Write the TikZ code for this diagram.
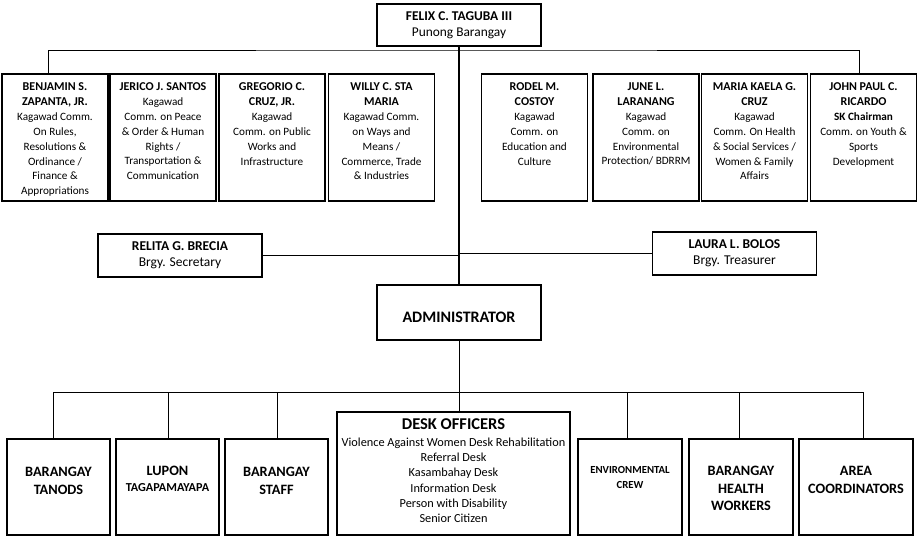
\documentclass[tikz,border=0pt]{standalone}
\usepackage{fontspec}
\setmainfont{Carlito}
\usetikzlibrary{positioning}

% text block pinned to the top of a fixed-height box
\newcommand{\topalign}[4]{\parbox[c][#1][t]{#2}{\centering\vspace*{#3}#4\par}}
\newcommand{\commname}[1]{{\fontsize{12}{15}\selectfont\bfseries #1\par}}
\newcommand{\commtext}[2]{\topalign{127pt}{104pt}{9pt}{\commname{#1}\fontsize{11.2}{14.8}\selectfont #2}}

\begin{document}
\begin{tikzpicture}[x=1pt, y=-1pt,
    orgbox/.style={draw, line width=1.1pt, inner sep=0pt, align=center},
    comm/.style={orgbox, minimum width=106pt, minimum height=127pt},
    officer/.style={orgbox, minimum width=164pt, minimum height=43pt,
                    font=\fontsize{13.5}{16}\selectfont},
    unit/.style={orgbox, minimum height=96pt, font=\bfseries\fontsize{14.3}{17.5}\selectfont},
    link/.style={line width=1pt},
    trunk/.style={line width=1.8pt}]

  \useasboundingbox (0,0) rectangle (920,541);

  \node[orgbox, minimum width=164pt, minimum height=42pt,
        font=\fontsize{13.4}{16}\selectfont] (punong) at (459,25)
        {\textbf{FELIX C. TAGUBA III}\\Punong Barangay};

  % kagawad row
  \node[comm] (c1) at (55,137.5)    {\commtext{BENJAMIN S.\\ZAPANTA, JR.}{Kagawad Comm.\\On Rules,\\Resolutions \&\\Ordinance /\\Finance \&\\Appropriations}};
  \node[comm] (c2) at (163,137.5)   {\commtext{JERICO J. SANTOS}{Kagawad\\Comm. on Peace\\\& Order \& Human\\Rights /\\Transportation \&\\Communication}};
  \node[comm] (c3) at (272,137.5)   {\commtext{GREGORIO C.\\CRUZ, JR.}{Kagawad\\Comm. on Public\\Works and\\Infrastructure}};
  \node[comm] (c4) at (381.5,137.5) {\commtext{WILLY C. STA\\MARIA}{Kagawad Comm.\\on Ways and\\Means /\\Commerce, Trade\\\& Industries}};
  \node[comm] (c5) at (534.5,137.5) {\commtext{RODEL M.\\COSTOY}{Kagawad\\Comm. on\\Education and\\Culture}};
  \node[comm] (c6) at (646,137.5)   {\commtext{JUNE L.\\LARANANG}{Kagawad\\Comm. on\\Environmental\\Protection/ BDRRM}};
  \node[comm] (c7) at (754.5,137.5) {\commtext{MARIA KAELA G.\\CRUZ}{Kagawad\\Comm. On Health\\\& Social Services /\\Women \& Family\\Affairs}};
  \node[comm] (c8) at (863.5,137.5) {\commtext{JOHN PAUL C.\\RICARDO}{\textbf{SK Chairman}\\Comm. on Youth \&\\Sports\\Development}};

  \node[officer] (sec)   at (180,255.5)   {\textbf{RELITA G. BRECIA}\\Brgy. Secretary};
  \node[officer] (treas) at (734.5,253.5) {\textbf{LAURA L. BOLOS}\\Brgy. Treasurer};

  \node[orgbox, minimum width=164pt, minimum height=55pt, text height=19pt, text depth=0pt,
        font=\bfseries\fontsize{16}{19}\selectfont] (admin) at (459,312.5) {ADMINISTRATOR};

  % units under the administrator
  \node[unit, minimum width=103pt] (tanod) at (58.5,487)  {\topalign{96pt}{100pt}{28.4pt}{BARANGAY\\TANODS}};
  \node[unit, minimum width=103pt] (lupon) at (167.5,487) {\topalign{96pt}{100pt}{27pt}{LUPON\\[-1.5pt]{\fontsize{12.2}{15}\selectfont TAGAPAMAYAPA}}};
  \node[unit, minimum width=103pt] (staff) at (276.5,487) {\topalign{96pt}{100pt}{28.4pt}{BARANGAY\\STAFF}};
  \node[orgbox, minimum width=233pt, minimum height=123pt] (desk) at (453.5,473.5)
        {\topalign{123pt}{230pt}{6.5pt}{{\bfseries\fontsize{16.5}{19}\selectfont DESK OFFICERS\par}\vspace{2pt}%
         \fontsize{12.3}{15.2}\selectfont Violence Against Women Desk Rehabilitation\\Referral Desk\\Kasambahay Desk\\Information Desk\\Person with Disability\\Senior Citizen}};
  \node[unit, minimum width=104pt, font=\bfseries\fontsize{10.8}{15}\selectfont] (env) at (630,487)
        {\topalign{96pt}{100pt}{27pt}{ENVIRONMENTAL\\CREW}};
  \node[unit, minimum width=104pt] (bhw)  at (741,487) {\topalign{96pt}{100pt}{27.4pt}{BARANGAY\\HEALTH\\WORKERS}};
  \node[unit, minimum width=114pt] (area) at (856,487) {\topalign{96pt}{110pt}{27.4pt}{AREA\\COORDINATORS}};

  \coordinate (cbar) at (459,50);
  \coordinate (ubar) at (459,392);

  \draw[trunk] (punong.south) -- (admin.north);
  \draw[link] ([xshift=-7pt]c1.north) |- (cbar) -| ([xshift=-4.5pt]c8.north);
  \draw[link] (sec.east) -- (sec.east -| punong.south);
  \draw[link] (treas.west) -- (treas.west -| punong.south);
  \draw[link] (admin.south) -- (admin.south |- desk.north);
  \draw[link] ([xshift=-5.5pt]tanod.north |- ubar) -- ([xshift=7pt]area.north |- ubar);
  \foreach \b/\dx in {tanod/-5.5, lupon/0.5, staff/0.5, env/-3, bhw/-2, area/7} {
    \draw[link] ([xshift=\dx pt]\b.north |- ubar) -- ([xshift=\dx pt]\b.north);
  }

\end{tikzpicture}
\end{document}
